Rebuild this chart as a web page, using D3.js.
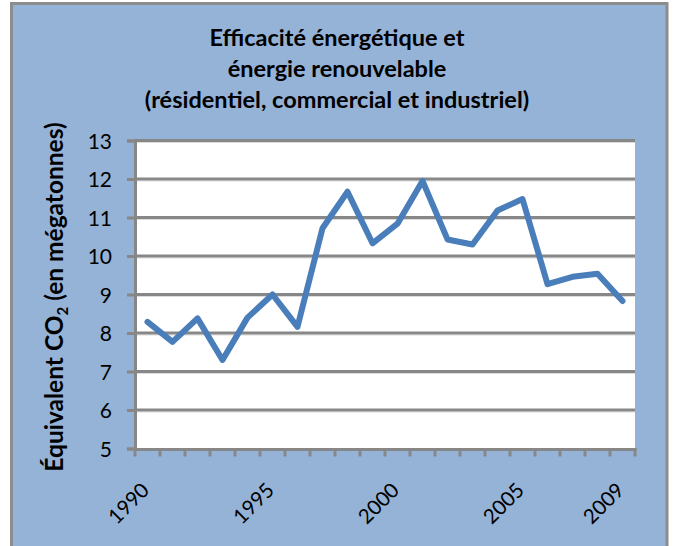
<!DOCTYPE html>
<html>
<head>
<meta charset="utf-8">
<script src="https://cdn.jsdelivr.net/npm/d3@7"></script>
<style>
  body { margin: 0; background: #ffffff; }
  text { font-family: Lato, "Open Sans", sans-serif; }
</style>
</head>
<body>
<div id="chart"></div>
<script>
let w = 673;
let h = 546;

// data
const years = d3.range(1990, 2010).map(String);
const values = [8.29, 7.77, 8.38, 7.30, 8.40, 9.00, 8.16, 10.72, 11.67, 10.33,
                10.84, 11.95, 10.43, 10.30, 11.18, 11.48, 9.27, 9.46, 9.54, 8.83];
const yTicks = [5, 6, 7, 8, 9, 10, 11, 12, 13];
const xLabels = ["1990", "1995", "2000", "2005", "2009"];
const titleLines = ["Efficacité énergétique et", "énergie renouvelable",
                    "(résidentiel, commercial et industriel)"];

let plotL = 135, plotR = 635, plotT = 140.5, plotB = 448.5;

let svg = d3.select("#chart").append("svg")
            .attr("width", w)
            .attr("height", h);

// chart background + border
svg.append("rect")
   .attr("x", 11.5).attr("y", 3.5)
   .attr("width", 655.5).attr("height", 560)
   .attr("fill", "#95b3d7")
   .attr("stroke", "#8c8c8c")
   .attr("stroke-width", 3);

let x = d3.scaleBand().domain(years).range([plotL, plotR]);
let y = d3.scaleLinear().domain([5, 13]).range([plotB, plotT]);

// plot area
svg.append("rect")
   .attr("x", plotL).attr("y", plotT)
   .attr("width", plotR - plotL).attr("height", plotB - plotT)
   .attr("fill", "#ffffff");

// gridlines (with the light shadow Excel draws under them)
svg.selectAll(".gshadow").data(yTicks.filter(d => d > 5)).enter().append("line")
   .attr("class", "gshadow")
   .attr("x1", plotL).attr("x2", plotR)
   .attr("y1", d => y(d) + 2).attr("y2", d => y(d) + 2)
   .attr("stroke", "#dcdcdc").attr("stroke-width", 1.2);
svg.selectAll(".grid").data(yTicks.filter(d => d > 5)).enter().append("line")
   .attr("class", "grid")
   .attr("x1", plotL).attr("x2", plotR)
   .attr("y1", d => y(d)).attr("y2", d => y(d))
   .attr("stroke", "#878787").attr("stroke-width", 3);

// y axis
let yAxis = svg.append("g")
   .attr("transform", `translate(${plotL},0)`)
   .call(d3.axisLeft(y).tickValues(yTicks).tickSize(8).tickPadding(15));
yAxis.select(".domain").attr("stroke", "#878787").attr("stroke-width", 3);
yAxis.selectAll(".tick line").attr("stroke", "#878787").attr("stroke-width", 3);
yAxis.selectAll(".tick text")
     .attr("font-family", "Lato, sans-serif")
     .attr("font-size", 21)
     .attr("fill", "#000")
     .attr("dy", "0.36em");

// x axis: ticks on category boundaries
let bounds = years.map(d => x(d)).concat([plotR]);
svg.append("line")
   .attr("x1", plotL - 1.5).attr("x2", plotR + 1.5)
   .attr("y1", plotB + 1).attr("y2", plotB + 1)
   .attr("stroke", "#878787").attr("stroke-width", 3);
svg.selectAll(".xtick").data(bounds).enter().append("line")
   .attr("class", "xtick")
   .attr("x1", d => d).attr("x2", d => d)
   .attr("y1", plotB).attr("y2", plotB + 8)
   .attr("stroke", "#878787").attr("stroke-width", 3);

svg.selectAll(".xlab").data(xLabels).enter().append("text")
   .attr("class", "xlab")
   .attr("transform", d => `translate(${x(d) + x.bandwidth() / 2 + 3},${plotB + 43}) rotate(-45)`)
   .attr("text-anchor", "end")
   .attr("font-size", 20.5)
   .text(d => d);

// the series
let line = d3.line()
   .x((d, i) => x(years[i]) + x.bandwidth() / 2)
   .y(d => y(d));
svg.append("path")
   .datum(values)
   .attr("d", line)
   .attr("fill", "none")
   .attr("stroke", "#4a7ebb")
   .attr("stroke-width", 6)
   .attr("stroke-linejoin", "round")
   .attr("stroke-linecap", "round");

// title
svg.selectAll(".title").data(titleLines).enter().append("text")
   .attr("class", "title")
   .attr("x", 337)
   .attr("y", (d, i) => 46 + i * 31)
   .attr("text-anchor", "middle")
   .attr("font-size", 23.5)
   .attr("font-weight", "bold")
   .text(d => d);

// y axis title
let yt = svg.append("text")
   .attr("transform", `translate(63,297) rotate(-90)`)
   .attr("text-anchor", "middle")
   .attr("font-size", 24.5)
   .attr("font-weight", "bold");
yt.append("tspan").text("Équivalent CO");
yt.append("tspan").attr("font-size", 15).attr("dy", 5).text("2");
yt.append("tspan").attr("dy", -5).text(" (en mégatonnes)");
</script>
</body>
</html>
